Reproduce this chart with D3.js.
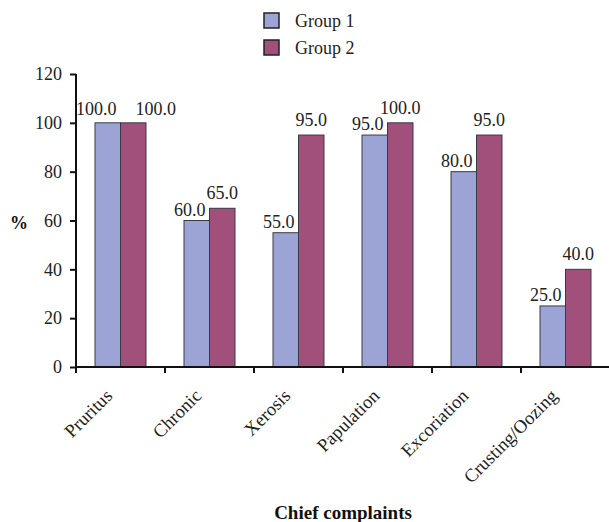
<!DOCTYPE html>
<html>
<head>
<meta charset="utf-8">
<script src="https://cdn.jsdelivr.net/npm/d3@7"></script>
<style>
  body { margin: 0; background: #fff; }
  svg text { font-family: "Liberation Serif", "DejaVu Serif", serif !important; }
</style>
</head>
<body>
<svg id="chart" width="609" height="522"></svg>
<script>
const categories = ["Pruritus", "Chronic", "Xerosis", "Papulation", "Excoriation", "Crusting/Oozing"];
const seriesNames = ["Group 1", "Group 2"];
const group1 = [100, 60, 55, 95, 80, 25];
const group2 = [100, 65, 95, 100, 95, 40];
const yTicks = [0, 20, 40, 60, 80, 100, 120];
const colors = ["#9ba4d4", "#a0507a"];
const FONT = "Liberation Serif";

const svg = d3.select("#chart");
const mLeft = 76, mRight = 610, mTop = 74, mBottom = 367;

const x = d3.scaleBand().domain(categories).range([mLeft, mRight]).paddingInner(0).paddingOuter(0);
const y = d3.scaleLinear().domain([0, 120]).range([mBottom, mTop]);
const barW = 25.5;
const x1 = d3.scaleBand().domain(seriesNames).range([0, barW * 2]);

const data = categories.map((c, i) => ({cat: c, vals: [group1[i], group2[i]]}));

// Bars and value labels
const g = svg.append("g");
const lg = svg.append("g");
data.forEach(d => {
  const cx = x(d.cat) + x.bandwidth() / 2;
  let prev = null;
  d.vals.forEach((v, j) => {
    const bx = cx - barW + x1(seriesNames[j]);
    g.append("rect")
      .attr("x", bx).attr("y", y(v))
      .attr("width", x1.bandwidth()).attr("height", y(0) - y(v))
      .attr("fill", colors[j]).attr("stroke", "#3a3a44").attr("stroke-width", 1);
    const t = lg.append("text")
      .attr("font-size", 18).attr("fill", "#222").attr("font-family", FONT)
      .text(v.toFixed(1));
    if (j === 0) {
      const base = y(v) - 5;
      t.attr("x", bx + x1.bandwidth() - 4).attr("y", base).attr("text-anchor", "end");
      prev = {node: t, right: bx + x1.bandwidth() - 4, base};
    } else {
      let base = y(v) - 9;
      const w = t.node().getComputedTextLength();
      let lx = bx + x1.bandwidth() / 2 - w / 2;
      if (prev && Math.abs(prev.base - base) < 14 && lx < prev.right + 12) {
        lx = prev.right + 19;
        base = Math.min(base, prev.base) + 1;
        prev.node.attr("y", base);
      }
      t.attr("x", lx).attr("y", base).attr("text-anchor", "start");
    }
  });
});

// Y axis
const yAxis = svg.append("g").attr("transform", `translate(${mLeft},0)`)
  .call(d3.axisLeft(y).tickValues(yTicks).tickSize(6).tickPadding(8));
yAxis.attr("font-family", FONT);
yAxis.select(".domain").attr("stroke", "#111").attr("stroke-width", 2).attr("d", `M0,${mTop}V${mBottom}`);
yAxis.selectAll(".tick line").attr("stroke", "#111").attr("stroke-width", 2);
yAxis.selectAll(".tick text").attr("font-size", 18).attr("fill", "#222").attr("font-family", FONT);

// X axis
const xAxis = svg.append("g").attr("transform", `translate(0,${mBottom})`)
  .call(d3.axisBottom(x).tickSize(0).tickFormat(""));
xAxis.select(".domain").attr("stroke", "#111").attr("stroke-width", 2).attr("d", `M${mLeft},0H${mRight}`);
const boundaries = categories.map(c => x(c));
svg.append("g").selectAll("line").data(boundaries).join("line")
  .attr("x1", d => d).attr("x2", d => d)
  .attr("y1", mBottom).attr("y2", mBottom + 6)
  .attr("stroke", "#111").attr("stroke-width", 2);

// Category labels
svg.append("g").selectAll("text").data(categories).join("text")
  .attr("transform", d => `translate(${x(d) + x.bandwidth() / 2 - 7},${mBottom + 30}) rotate(-45)`)
  .attr("text-anchor", "end").attr("font-size", 18.5).attr("fill", "#222")
  .attr("font-family", FONT)
  .text(d => d);

// Axis titles
svg.append("text").attr("x", 343).attr("y", 519).attr("text-anchor", "middle")
  .attr("font-size", 19).attr("font-weight", "bold").attr("fill", "#111")
  .attr("font-family", FONT).text("Chief complaints");
svg.append("text").attr("x", 19).attr("y", 229).attr("text-anchor", "middle")
  .attr("font-size", 18).attr("font-weight", "bold").attr("fill", "#111")
  .attr("font-family", FONT).text("%");

// Legend
const legend = svg.append("g");
seriesNames.forEach((s, j) => {
  const ly = 13 + j * 27;
  legend.append("rect").attr("x", 264).attr("y", ly).attr("width", 15).attr("height", 15)
    .attr("fill", colors[j]).attr("stroke", "#222").attr("stroke-width", 1.5);
  legend.append("text").attr("x", 295).attr("y", ly + 14).attr("font-size", 18)
    .attr("fill", "#222").attr("font-family", FONT).text(s);
});
</script>
</body>
</html>
